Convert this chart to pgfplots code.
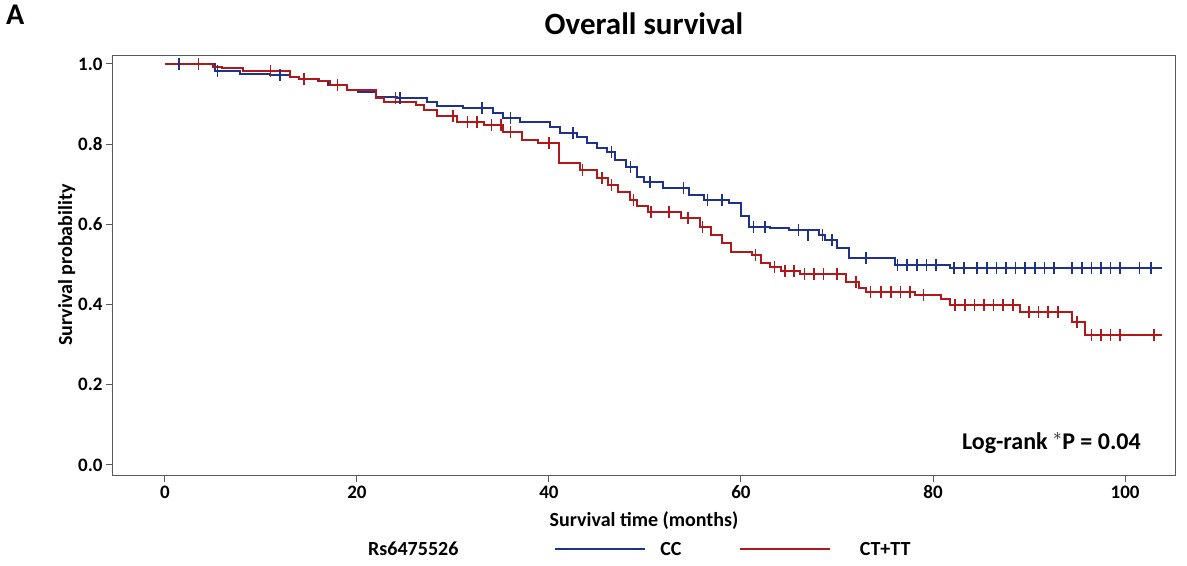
\documentclass[border=0pt]{standalone}
\usepackage{pgfplots}
\pgfplotsset{compat=1.18}
\usepackage{fontspec}
\setmainfont{Carlito}
\definecolor{cc}{RGB}{30,50,140}
\definecolor{ct}{RGB}{175,25,25}
\begin{document}
\begin{tikzpicture}[x=1pt,y=1pt]
\begin{axis}[
  at={(0,0)}, anchor=south west,
  width=1062pt, height=420pt, scale only axis,
  xmin=-5.4, xmax=105.2, ymin=-0.025, ymax=1.022,
  xtick={0,20,40,60,80,100}, ytick={0,0.2,0.4,0.6,0.8,1.0},
  yticklabel style={/pgf/number format/.cd,fixed,fixed zerofill,precision=1},
  /pgf/number format/assume math mode=true,
  ticklabel style={font=\fontsize{19}{19}\selectfont\bfseries},
  axis line style={gray!70!black, line width=1pt},
  tick style={gray!70!black, line width=1pt},
  tick align=outside, major tick length=7pt,
  axis x line*=box, axis y line*=box,
  xtick pos=bottom, ytick pos=left,
  xlabel={Survival time (months)}, ylabel={Survival probability},
  label style={font=\fontsize{20}{20}\selectfont\bfseries},
  xlabel style={yshift=-6pt},
  ylabel style={yshift=-4pt},
  clip=false,
]
\addplot[const plot, cc, line width=2pt] coordinates {
(0,1.0)(5.2,0.981)(7.8,0.974)(11,0.971)(13,0.968)(14,0.963)(16,0.956)(17,0.948)(19,0.935)(20.1,0.931)(22,0.918)(24.2,0.914)(27.3,0.906)(28.3,0.894)(31,0.889)(34.2,0.877)(35.2,0.864)(37,0.856)(40.1,0.843)(41.1,0.827)(42.9,0.818)(44,0.802)(45,0.79)(46,0.78)(46.9,0.76)(48,0.743)(49.2,0.718)(49.9,0.705)(51.9,0.69)(54.6,0.673)(56.1,0.66)(58.8,0.653)(60,0.62)(60.8,0.594)(63,0.59)(65,0.586)(68.1,0.574)(68.8,0.56)(70,0.54)(71.2,0.516)(76,0.499)(81.8,0.491)(103.8,0.491)};
\addplot[const plot, ct, line width=2pt] coordinates {
(0,1.0)(5,0.993)(6,0.989)(8.1,0.983)(13,0.968)(14,0.963)(16.1,0.956)(17.2,0.948)(19,0.935)(22,0.914)(22.8,0.906)(26.2,0.898)(27,0.885)(28.3,0.869)(30.4,0.856)(33.2,0.848)(35.2,0.831)(37.2,0.81)(38.9,0.802)(41,0.752)(43.2,0.736)(45,0.715)(46.1,0.698)(47.2,0.68)(48.4,0.66)(49.2,0.646)(50.3,0.63)(53.8,0.615)(55.7,0.594)(56.9,0.574)(58,0.553)(59,0.53)(61.1,0.524)(62.1,0.504)(63,0.494)(64.2,0.484)(66.1,0.476)(70.9,0.456)(72.3,0.44)(73,0.431)(78.1,0.424)(80.8,0.413)(81.8,0.4)(89.1,0.382)(94.5,0.357)(95.8,0.324)(103.8,0.324)};
% censor marks
\addplot[only marks, mark=|, mark size=6pt, cc, line width=1.6pt] coordinates {
(1.5,1.0)(5.5,0.981)(12,0.971)(24.5,0.914)(33,0.889)(36,0.864)(42.5,0.827)(46.5,0.78)(48.5,0.743)(50.5,0.705)(54,0.69)(56.5,0.66)(58,0.66)(61.3,0.594)(62.5,0.594)(66,0.586)(67,0.574)(68.5,0.574)(69.5,0.56)(73,0.516)(76.3,0.499)(77.3,0.499)(78.3,0.499)(79.3,0.499)(80.3,0.499)(82.2,0.491)(83.2,0.491)(84.6,0.491)(85.6,0.491)(86.6,0.491)(87.6,0.491)(88.6,0.491)(89.6,0.491)(90.6,0.491)(91.6,0.491)(92.6,0.491)(94.5,0.491)(95.5,0.491)(96.5,0.491)(97.5,0.491)(98.5,0.491)(99.5,0.491)(101.5,0.491)(102.7,0.491)};
\addplot[only marks, mark=|, mark size=6pt, ct, line width=1.6pt] coordinates {
(3.5,1.0)(11,0.983)(14.5,0.963)(18,0.948)(24,0.914)(30,0.869)(31.5,0.856)(32.5,0.856)(34,0.848)(35,0.848)(36,0.831)(40,0.802)(43.5,0.736)(45.5,0.715)(46.5,0.698)(48.8,0.66)(50.6,0.63)(52.5,0.63)(54.5,0.615)(56,0.594)(61.5,0.524)(63.5,0.494)(64.6,0.484)(65.5,0.484)(66.6,0.476)(67.6,0.476)(68.6,0.476)(70,0.476)(72,0.456)(73.5,0.431)(74.6,0.431)(75.6,0.431)(76.6,0.431)(77.6,0.431)(79,0.424)(82.3,0.4)(83.3,0.4)(84.3,0.4)(85.3,0.4)(86.3,0.4)(87.3,0.4)(88.3,0.4)(90,0.382)(91,0.382)(92,0.382)(93,0.382)(95,0.357)(96.5,0.324)(97.5,0.324)(98.5,0.324)(99.5,0.324)(103,0.324)};
\node[anchor=south east, font=\fontsize{24}{24}\selectfont\bfseries] at (axis cs:102,0.02) {Log-rank $^{*}$P = 0.04};
\node[font=\fontsize{31}{31}\selectfont\bfseries] at (rel axis cs:0.5,1.075) {Overall survival};
\node[font=\fontsize{30}{30}\selectfont\bfseries] at (rel axis cs:-0.092,1.095) {A};
% legend
\node[anchor=west, font=\fontsize{20}{20}\selectfont\bfseries] at (rel axis cs:0.237,-0.175) {Rs6475526};
\draw[cc, line width=2pt] (rel axis cs:0.416,-0.175) -- (rel axis cs:0.501,-0.175);
\node[anchor=west, font=\fontsize{20}{20}\selectfont\bfseries] at (rel axis cs:0.512,-0.175) {CC};
\draw[ct, line width=2pt] (rel axis cs:0.590,-0.175) -- (rel axis cs:0.675,-0.175);
\node[anchor=west, font=\fontsize{20}{20}\selectfont\bfseries] at (rel axis cs:0.700,-0.175) {CT+TT};
\useasboundingbox (rel axis cs:-0.1064,-0.2143) rectangle (rel axis cs:1.0113,1.131);
\end{axis}
\end{tikzpicture}
\end{document}
